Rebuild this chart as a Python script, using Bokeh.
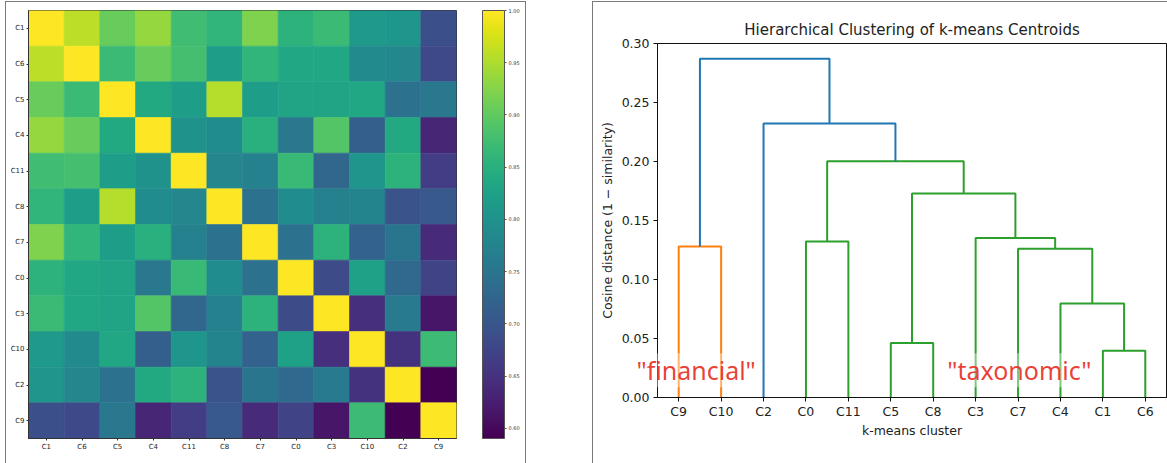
from bokeh.plotting import figure
from bokeh.models import (FactorRange, Range1d, LinearColorMapper, ColorBar, FixedTicker,
                          Label, PrintfTickFormatter)
from bokeh.transform import linear_cmap
from bokeh.palettes import Viridis256
from bokeh.embed import file_html
from bokeh.resources import INLINE

# ---------------- data ----------------
order = ["C1", "C6", "C5", "C4", "C11", "C8", "C7", "C0", "C3", "C10", "C2", "C9"]
sim_C1  = [1.000, 0.960, 0.905, 0.935, 0.875, 0.860, 0.920, 0.855, 0.870, 0.810, 0.805, 0.690]
sim_C6  = [0.960, 1.000, 0.870, 0.905, 0.880, 0.820, 0.860, 0.835, 0.835, 0.785, 0.780, 0.680]
sim_C5  = [0.905, 0.870, 1.000, 0.840, 0.820, 0.955, 0.820, 0.830, 0.830, 0.835, 0.745, 0.755]
sim_C4  = [0.935, 0.905, 0.840, 1.000, 0.800, 0.790, 0.850, 0.755, 0.890, 0.715, 0.840, 0.635]
sim_C11 = [0.875, 0.880, 0.820, 0.800, 1.000, 0.780, 0.770, 0.868, 0.725, 0.805, 0.855, 0.665]
sim_C8  = [0.860, 0.820, 0.955, 0.790, 0.780, 1.000, 0.745, 0.790, 0.770, 0.775, 0.695, 0.705]
sim_C7  = [0.920, 0.860, 0.820, 0.850, 0.770, 0.745, 1.000, 0.745, 0.855, 0.720, 0.750, 0.640]
sim_C0  = [0.855, 0.835, 0.830, 0.755, 0.868, 0.790, 0.745, 1.000, 0.685, 0.825, 0.730, 0.675]
sim_C3  = [0.870, 0.835, 0.830, 0.890, 0.725, 0.770, 0.855, 0.685, 1.000, 0.645, 0.760, 0.615]
sim_C10 = [0.810, 0.785, 0.835, 0.715, 0.805, 0.775, 0.720, 0.825, 0.645, 1.000, 0.650, 0.872]
sim_C2  = [0.805, 0.780, 0.745, 0.840, 0.855, 0.695, 0.750, 0.730, 0.760, 0.650, 1.000, 0.590]
sim_C9  = [0.690, 0.680, 0.755, 0.635, 0.665, 0.705, 0.640, 0.675, 0.615, 0.872, 0.590, 1.000]
sim_rows = [sim_C1, sim_C6, sim_C5, sim_C4, sim_C11, sim_C8, sim_C7, sim_C0, sim_C3, sim_C10, sim_C2, sim_C9]
cb_low, cb_high = 0.5904, 1.0
cb_ticks = [0.60, 0.65, 0.70, 0.75, 0.80, 0.85, 0.90, 0.95, 1.00]

# dendrogram: leaf order and merges (left child, right child, height)
leaves = ["C9", "C10", "C2", "C0", "C11", "C5", "C8", "C3", "C7", "C4", "C1", "C6"]
merge_left   = ["C1", "C5", "C4", "C7", "C9",  "C0", "C3", "m1", "m5", "C2", "m4"]
merge_right  = ["C6", "C8", "m0", "m2", "C10", "C11", "m3", "m6", "m7", "m8", "m9"]
merge_height = [0.0396, 0.0461, 0.0796, 0.1260, 0.1279, 0.1321, 0.1352, 0.1729, 0.2002, 0.2322, 0.2871]
merge_color  = ["#2ca02c", "#2ca02c", "#2ca02c", "#2ca02c", "#ff7f0e", "#2ca02c", "#2ca02c",
                "#2ca02c", "#2ca02c", "#1f77b4", "#1f77b4"]
y_ticks = [0.00, 0.05, 0.10, 0.15, 0.20, 0.25, 0.30]

FONT = "DejaVu Sans"
TXT = "#222222"
BORDER = "1px solid #7a7a7a"

# ---------------- heatmap ----------------
xs, ys, vals = [], [], []
for r, name in enumerate(order):
    for c, col in enumerate(order):
        xs.append(col)
        ys.append(name)
        vals.append(sim_rows[r][c])

p1 = figure(x_range=FactorRange(*order), y_range=FactorRange(*order[::-1]),
            frame_width=428, frame_height=428,
            min_border_left=22, min_border_right=69, min_border_top=8, min_border_bottom=25,
            output_backend="svg", toolbar_location=None)
cmap = linear_cmap("v", Viridis256, cb_low, cb_high)
p1.rect(x="x", y="y", width=1, height=1, source=dict(x=xs, y=ys, v=vals),
        fill_color=cmap, line_color=cmap, line_width=0.6)
p1.grid.visible = False
p1.outline_line_color = "#333333"
p1.outline_line_width = 1
for ax in (p1.xaxis[0], p1.yaxis[0]):
    ax.axis_line_color = "#333333"
    ax.major_tick_out = 2
    ax.major_tick_in = 0
    ax.major_tick_line_color = "#333333"
    ax.minor_tick_line_color = None
    ax.major_label_text_font = FONT
    ax.major_label_text_font_size = "7px"
    ax.major_label_text_color = TXT
    ax.major_label_standoff = 2

mapper = LinearColorMapper(palette=Viridis256, low=cb_low, high=cb_high)
cb = ColorBar(color_mapper=mapper, location=(454, 0), width=22, height=428,
              padding=0, margin=0,
              ticker=FixedTicker(ticks=cb_ticks), formatter=PrintfTickFormatter(format="%.2f"),
              major_label_text_font=FONT, major_label_text_font_size="5px",
              major_label_text_color="#333333",
              major_tick_out=2, major_tick_in=0, major_tick_line_color="#555555",
              bar_line_color="#555555", label_standoff=2,
              background_fill_alpha=0, border_line_color=None)
p1.add_layout(cb)
p1.styles = {"position": "absolute", "left": "5px", "top": "1px",
             "border-left": BORDER, "border-top": BORDER, "border-right": BORDER}

# ---------------- dendrogram ----------------
pos = {name: 5 + 10 * i for i, name in enumerate(leaves)}
hgt = {name: 0.0 for name in leaves}
seg_x, seg_y, seg_c = [], [], []
for i, (a, b, h, col) in enumerate(zip(merge_left, merge_right, merge_height, merge_color)):
    seg_x.append([pos[a], pos[a], pos[b], pos[b]])
    seg_y.append([hgt[a], h, h, hgt[b]])
    seg_c.append(col)
    pos["m%d" % i] = (pos[a] + pos[b]) / 2.0
    hgt["m%d" % i] = h

p2 = figure(x_range=Range1d(0, 10 * len(leaves)), y_range=Range1d(0, 0.30),
            frame_width=509, frame_height=354,
            min_border_left=64, min_border_right=1, min_border_top=41, min_border_bottom=66,
            output_backend="svg", toolbar_location=None)
p2.multi_line(xs="xs", ys="ys", line_color="c", line_width=2,
              source=dict(xs=seg_x, ys=seg_y, c=seg_c))
p2.grid.visible = False
p2.outline_line_color = "#111111"
p2.outline_line_width = 1
p2.title.text = "Hierarchical Clustering of k-means Centroids"
p2.title.align = "center"
p2.title.text_font = FONT
p2.title.text_font_size = "15px"
p2.title.text_font_style = "normal"
p2.title.text_color = TXT
p2.title.standoff = 9

p2.xaxis.ticker = FixedTicker(ticks=[5 + 10 * i for i in range(len(leaves))])
p2.xaxis.major_label_overrides = {5 + 10 * i: name for i, name in enumerate(leaves)}
p2.xaxis.axis_label = "k-means cluster"
p2.yaxis.ticker = FixedTicker(ticks=y_ticks)
p2.yaxis.formatter = PrintfTickFormatter(format="%.2f")
p2.yaxis.axis_label = "Cosine distance (1 \u2212 similarity)"
for ax in (p2.xaxis[0], p2.yaxis[0]):
    ax.axis_line_color = "#111111"
    ax.major_tick_out = 4
    ax.major_tick_in = 0
    ax.major_tick_line_color = "#111111"
    ax.minor_tick_line_color = None
    ax.major_label_text_font = FONT
    ax.major_label_text_font_size = "12.5px"
    ax.major_label_text_color = TXT
    ax.axis_label_text_font = FONT
    ax.axis_label_text_font_size = "12.5px"
    ax.axis_label_text_font_style = "normal"
    ax.axis_label_text_color = TXT
p2.xaxis.major_label_standoff = 2
p2.xaxis.axis_label_standoff = 1
p2.yaxis.major_label_standoff = 4
p2.yaxis.axis_label_standoff = 4

ann_style = dict(text_font="Noto Sans", text_font_size="25px", text_color="#e8352b",
                 text_alpha=0.95, text_baseline="alphabetic",
                 background_fill_color="white", background_fill_alpha=0.4)
# the left label overhangs the y axis, so it lives in a side panel (not clipped to the frame)
p2.add_layout(Label(x=-4.95, y=0.023, text='"financial"', **ann_style), "below")
p2.add_layout(Label(x=68.3, y=0.023, text='"taxonomic"', **ann_style))
p2.styles = {"position": "absolute", "left": "592px", "top": "1px",
             "border-left": BORDER, "border-top": BORDER}

open("out.html", "w").write(file_html([p1, p2], INLINE))
